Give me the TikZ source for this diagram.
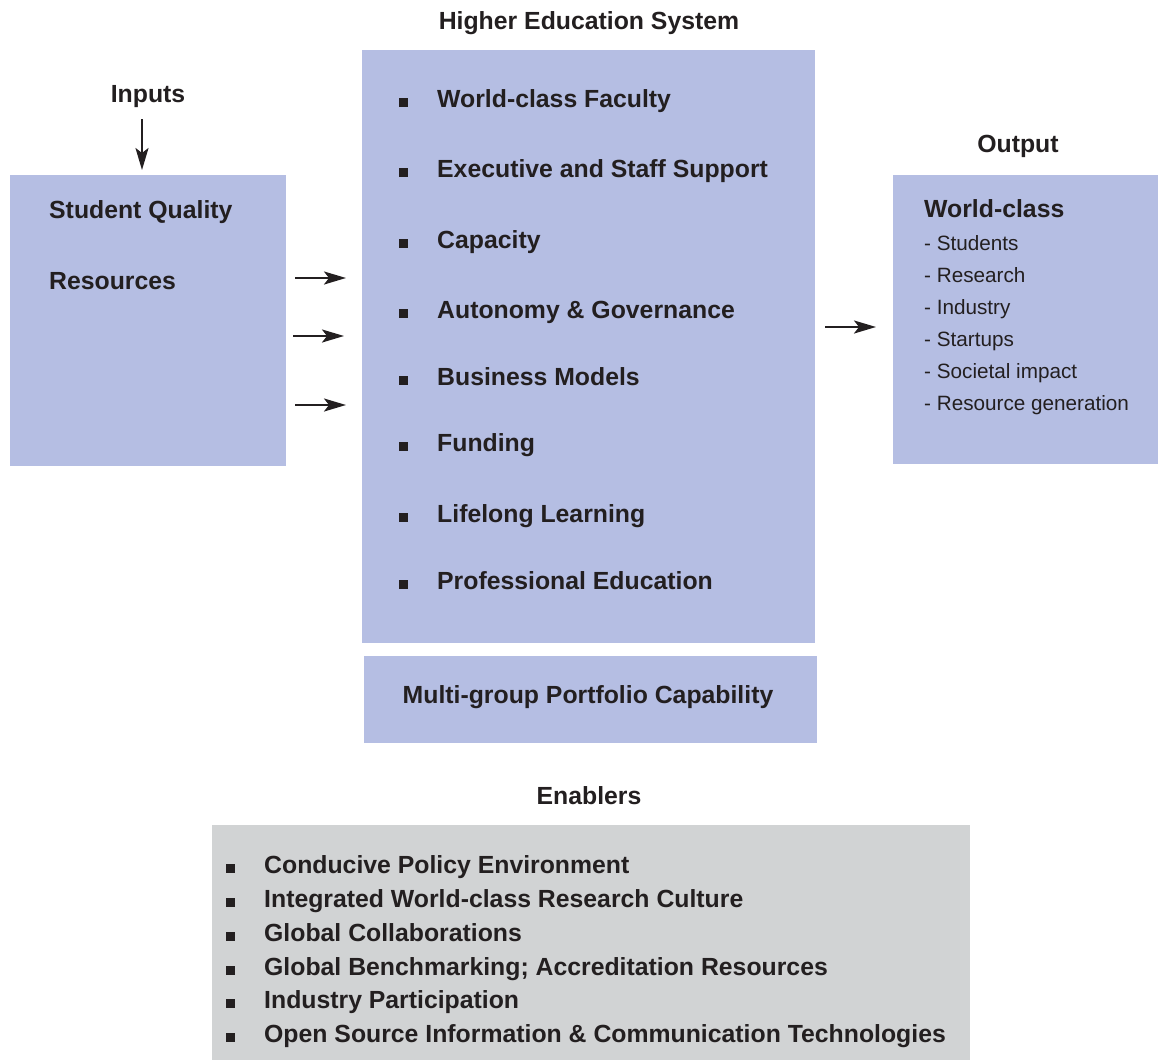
\documentclass[tikz,border=0pt]{standalone}
\usepackage{fontspec}
\setmainfont{Liberation Sans}
\usetikzlibrary{arrows.meta}
\definecolor{PanelBlue}{HTML}{B5BEE3}
\definecolor{PanelGrey}{HTML}{D1D3D4}
\definecolor{InkDark}{HTML}{231F20}

\begin{document}
\begin{tikzpicture}[x=1pt,y=-1pt,>={Stealth[length=22pt,width=13pt,inset=5pt]},
  font=\bfseries\fontsize{24.8}{30}\selectfont,text=InkDark,
  panel/.style={fill=PanelBlue,draw=none,inner sep=0pt,outer sep=0pt,anchor=north west},
  label/.style={anchor=base,inner sep=0pt},
  entry/.style={anchor=base west,inner sep=0pt},
  item/.style={entry,execute at begin node={\rule{9pt}{9pt}\hspace{29pt}}},
  outitem/.style={entry,font=\mdseries\fontsize{20.7}{24}\selectfont},
  flow/.style={->,line width=2.3pt,InkDark}]
  \path[use as bounding box] (0,0) rectangle (1158,1060);
  % headings
  \node[label] (hestitle) at (589,29) {Higher Education System};
  \node[label] (inputs) at (148,102) {Inputs};
  \node[label] (output) at (1018,152) {Output};
  \node[label] (enablers) at (589,804) {Enablers};
  % the four panels
  \node[panel,minimum width=276pt,minimum height=291pt] (inbox) at (10,175) {};
  \node[panel,minimum width=453pt,minimum height=593pt] (hes) at (362,50) {};
  \node[panel,minimum width=453pt,minimum height=87pt] (multi) at (364,656) {};
  \node[panel,minimum width=265pt,minimum height=289pt] (outbox) at (893,175) {};
  \node[panel,fill=PanelGrey,minimum width=758pt,minimum height=235pt] (enabox) at (212,825) {};
  % inputs
  \node[entry] (quality) at (49,218) {Student Quality};
  \node[entry] (resources) at (49,289) {Resources};
  % higher education system
  \node[item] (faculty) at (399,107) {World-class Faculty};
  \node[item] (staff) at (399,177) {Executive and Staff Support};
  \node[item] (capacity) at (399,248) {Capacity};
  \node[item] (autonomy) at (399,318) {Autonomy \& Governance};
  \node[item] (business) at (399,385) {Business Models};
  \node[item] (funding) at (399,451) {Funding};
  \node[item] (lifelong) at (399,522) {Lifelong Learning};
  \node[item] (profed) at (399,589) {Professional Education};
  \node[label] (portfolio) at (588,703) {Multi-group Portfolio Capability};
  % output
  \node[entry] (worldclass) at (924,217) {World-class};
  \node[outitem] (students) at (924,250) {- Students};
  \node[outitem] (research) at (924,282) {- Research};
  \node[outitem] (industry) at (924,314) {- Industry};
  \node[outitem] (startups) at (924,346) {- Startups};
  \node[outitem] (societal) at (924,378) {- Societal impact};
  \node[outitem] (revenue) at (924,410) {- Resource generation};
  % enablers
  \node[item] (policy) at (226,873) {Conducive Policy Environment};
  \node[item] (culture) at (226,907) {Integrated World-class Research Culture};
  \node[item] (collab) at (226,941) {Global Collaborations};
  \node[item] (bench) at (226,975) {Global Benchmarking; Accreditation Resources};
  \node[item] (partner) at (226,1008) {Industry Participation};
  \node[item] (opensource) at (226,1042) {Open Source Information \& Communication Technologies};
  % arrows
  \draw[flow,shorten <=12pt,shorten >=5pt] ([xshift=-6pt]inputs.south) -- ([xshift=-6pt]inbox.north);
  \coordinate (feedA) at ([yshift=42.5pt]inbox.east);
  \coordinate (feedB) at ([yshift=-15.5pt]inbox.east);
  \coordinate (feedC) at ([yshift=-84.5pt]inbox.east);
  \draw[flow,shorten <=9pt,shorten >=16pt] (feedA) -- (feedA -| hes.west);
  \draw[flow,shorten <=7pt,shorten >=18pt] (feedB) -- (feedB -| hes.west);
  \draw[flow,shorten <=9pt,shorten >=16pt] (feedC) -- (feedC -| hes.west);
  \coordinate (result) at ([yshift=19.5pt]hes.east);
  \draw[flow,shorten <=10pt,shorten >=17pt] (result) -- (result -| outbox.west);
\end{tikzpicture}
\end{document}
